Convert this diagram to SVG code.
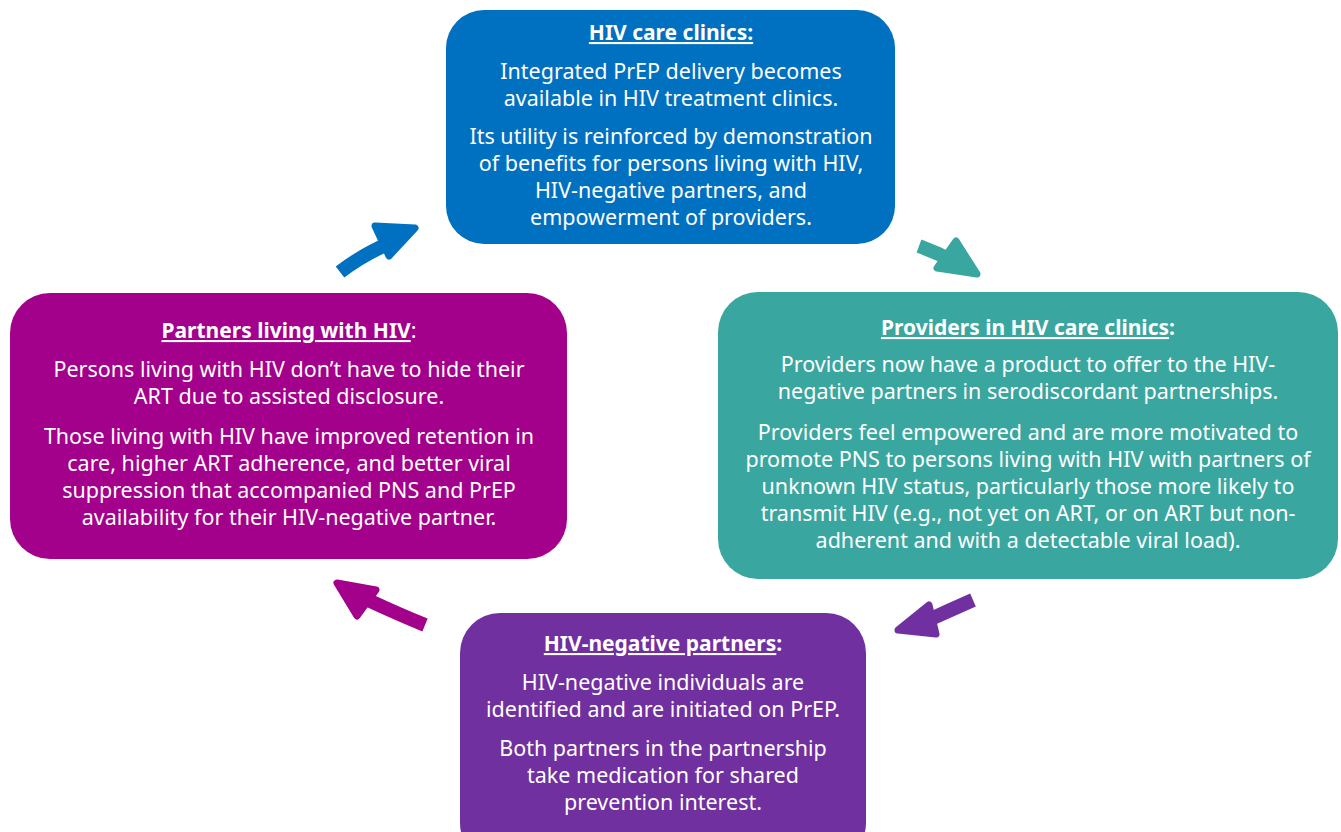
<svg xmlns="http://www.w3.org/2000/svg" width="1341" height="832" viewBox="0 0 1341 832">
  <style>
    .body { font-family: "Noto Sans", "Open Sans", sans-serif; font-size: 21.5px; fill: #ffffff; text-anchor: middle; }
    .title { font-weight: bold; font-size: 21px; }
    .ul { text-decoration: underline; }
    .shaft { fill: none; stroke-width: 14; stroke-linecap: butt; }
    .head { stroke-width: 7; stroke-linejoin: round; }
  </style>
  <rect width="1341" height="832" fill="#ffffff"/>

  <!-- cycle connectors -->
  <g id="connectors">
    <g id="arrow-blue" fill="#0070C0" stroke="#0070C0">
      <path class="shaft" d="M340,272 Q362,255 392,242"/>
      <polygon class="head" points="415,228 375,226 389,256"/>
    </g>
    <g id="arrow-teal" fill="#3AA6A0" stroke="#3AA6A0">
      <path class="shaft" d="M919,246 Q938,253 955,262"/>
      <polygon class="head" points="977,274 956,241 937,268"/>
    </g>
    <g id="arrow-purple" fill="#7030A0" stroke="#7030A0">
      <path class="shaft" d="M973,600 Q948,611 922,623"/>
      <polygon class="head" points="898,630 929,605 936,634"/>
    </g>
    <g id="arrow-magenta" fill="#A3008C" stroke="#A3008C">
      <path class="shaft" d="M425,625 Q398,614 368,600"/>
      <polygon class="head" points="337,583 376,590 357,616"/>
    </g>
  </g>

  <!-- top: HIV care clinics -->
  <g id="node-clinics">
    <rect x="446" y="10" width="449" height="234" rx="38" fill="#0070C0"/>
    <text class="body" x="671" y="40"><tspan class="title ul">HIV care clinics:</tspan></text>
    <text class="body" x="671" y="79">Integrated PrEP delivery becomes</text>
    <text class="body" x="671" y="106">available in HIV treatment clinics.</text>
    <text class="body" x="671" y="144">Its utility is reinforced by demonstration</text>
    <text class="body" x="671" y="171">of benefits for persons living with HIV,</text>
    <text class="body" x="671" y="198">HIV-negative partners, and</text>
    <text class="body" x="671" y="225">empowerment of providers.</text>
  </g>

  <!-- right: Providers in HIV care clinics -->
  <g id="node-providers">
    <rect x="718" y="292" width="620" height="287" rx="40" fill="#3AA6A0"/>
    <text class="body" x="1028" y="335"><tspan class="title ul">Providers in HIV care clinics</tspan><tspan class="title">:</tspan></text>
    <text class="body" x="1028" y="372">Providers now have a product to offer to the HIV-</text>
    <text class="body" x="1028" y="399">negative partners in serodiscordant partnerships.</text>
    <text class="body" x="1028" y="440">Providers feel empowered and are more motivated to</text>
    <text class="body" x="1028" y="467">promote PNS to persons living with HIV with partners of</text>
    <text class="body" x="1028" y="494">unknown HIV status, particularly those more likely to</text>
    <text class="body" x="1028" y="521">transmit HIV (e.g., not yet on ART, or on ART but non-</text>
    <text class="body" x="1028" y="548">adherent and with a detectable viral load).</text>
  </g>

  <!-- left: Partners living with HIV -->
  <g id="node-partners-hiv">
    <rect x="10" y="293" width="557" height="266" rx="40" fill="#A3008C"/>
    <text class="body" x="289" y="338"><tspan class="title ul">Partners living with HIV</tspan><tspan>:</tspan></text>
    <text class="body" x="289" y="377">Persons living with HIV don’t have to hide their</text>
    <text class="body" x="289" y="404">ART due to assisted disclosure.</text>
    <text class="body" x="289" y="444">Those living with HIV have improved retention in</text>
    <text class="body" x="289" y="471">care, higher ART adherence, and better viral</text>
    <text class="body" x="289" y="498">suppression that accompanied PNS and PrEP</text>
    <text class="body" x="289" y="525">availability for their HIV-negative partner.</text>
  </g>

  <!-- bottom: HIV-negative partners -->
  <g id="node-negative-partners">
    <rect x="460" y="613" width="406" height="250" rx="40" fill="#7030A0"/>
    <text class="body" x="663" y="651"><tspan class="title ul">HIV-negative partners</tspan><tspan class="title">:</tspan></text>
    <text class="body" x="663" y="690">HIV-negative individuals are</text>
    <text class="body" x="663" y="717">identified and are initiated on PrEP.</text>
    <text class="body" x="663" y="756">Both partners in the partnership</text>
    <text class="body" x="663" y="783">take medication for shared</text>
    <text class="body" x="663" y="810">prevention interest.</text>
  </g>
</svg>
